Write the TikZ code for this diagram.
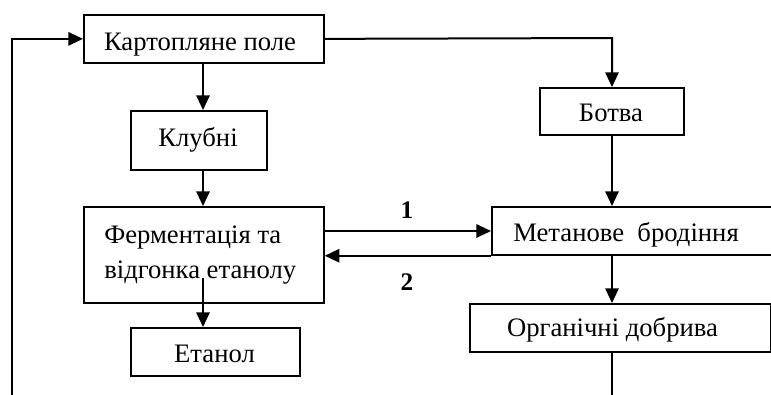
\documentclass[tikz,border=0pt]{standalone}
\usepackage{fontspec}
\setmainfont{Liberation Serif}
\usetikzlibrary{arrows.meta,calc}
\tikzset{
  box/.style={draw, line width=1.3pt, inner sep=0pt, anchor=north west},
  txt/.style={inner sep=0pt, anchor=base, font=\fontsize{20}{23}\selectfont},
  num/.style={inner sep=0pt, anchor=base, font=\fontsize{19}{22}\selectfont\bfseries},
  flow/.style={line width=1.5pt, -{Triangle[length=11pt,width=10pt]}},
  plain/.style={line width=1.5pt}
}
\begin{document}
\begin{tikzpicture}[x=0.75pt,y=-0.75pt]
\useasboundingbox (0,0) rectangle (771,394);
\clip (0,0) rectangle (771,394);
% boxes (top-left corner, size in px)
\node[box, minimum width=180pt, minimum height=36pt] (pole) at (83,14) {};
\node[box, minimum width=102pt, minimum height=44.25pt] (klub) at (130,110) {};
\node[box, minimum width=108pt, minimum height=35.25pt] (botva) at (539,87) {};
\node[box, minimum width=180pt, minimum height=72pt] (ferm) at (83,206) {};
\node[box, minimum width=126.75pt, minimum height=36pt] (etan) at (130,327) {};
\node[box, minimum width=225pt, minimum height=36pt] (metan) at (491,206) {};
\node[box, minimum width=225.75pt, minimum height=36pt] (org) at (469,303) {};
% texts
\node[txt] (tpole) at (200,50) {Картопляне поле};
\node[txt] (tklub) at (198,146) {Клубні};
\node[txt] (tbotva) at (611,121.7) {Ботва};
\node[txt, anchor=base west] (tferm1) at (104,243) {Ферментація та};
\node[txt, anchor=base west] (tferm2) at (104,278) {відгонка етанолу};
\node[txt] (tetan) at (214.5,362) {Етанол};
\node[txt, anchor=base west] (tmetan) at (513,241.7) {Метанове\ \ бродіння};
\node[txt] (torg) at (612.5,336.7) {Органічні добрива};
\node[num] (n1) at (407,218) {1};
\node[num] (n2) at (407,290) {2};
% connectors
\coordinate (loopend) at (12,400);
\coordinate (fieldend) at (612,400);
\coordinate (fermout) at (203,278);
\coordinate (topturn) at (612,38);
\draw[flow] (loopend) |- (pole.west);
\draw[flow] (pole.east) -- (topturn) -- (topturn |- botva.north);
\draw[flow] (pole.south -| fermout) -- (fermout |- klub.north);
\draw[flow] (fermout |- klub.south) -- (fermout |- ferm.north);
\draw[flow] (fermout) -- (fermout |- etan.north);
\draw[flow] (topturn |- botva.south) -- (topturn |- metan.north);
\draw[flow] ($(ferm.north east)+(0,25)$) -- ($(metan.north west)+(0,25)$);
\draw[flow] (metan.south west) -- (metan.south west -| ferm.east);
\draw[flow] (topturn |- metan.south) -- (topturn |- org.north);
\draw[plain] (topturn |- org.south) -- (fieldend);
\end{tikzpicture}
\end{document}
